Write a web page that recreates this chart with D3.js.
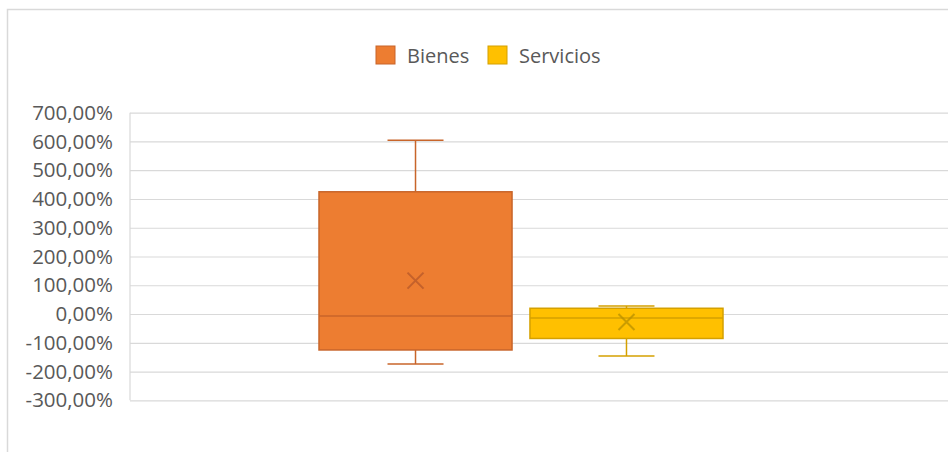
<!DOCTYPE html>
<html>
<head>
<meta charset="utf-8">
<script src="https://cdn.jsdelivr.net/npm/d3@7"></script>
<style>
  html, body { margin: 0; padding: 0; background: #ffffff; }
  svg { display: block; }
  text { font-family: "Open Sans", sans-serif; }
</style>
</head>
<body>
<div id="chart"></div>
<script>
// box plot values (in %)
var series = ["Bienes", "Servicios"];
var minVals = [-174, -146];
var q1Vals = [-125, -85];
var medianVals = [-7, -14];
var q3Vals = [425, 20];
var maxVals = [604, 28];
var meanVals = [116, -28];
var fills = ["#ED7D31", "#FFC000"];
var strokes = ["#C8652A", "#D4A000"];

var width = 952, height = 452;
var plot = {left: 130, right: 948, top: 112.7, bottom: 400.3};

var locale = d3.formatLocale({decimal: ",", thousands: ".", grouping: [3], currency: ["", "€"], minus: "-"});
var fmt = locale.format(".2f");

var svg = d3.select("#chart").append("svg")
    .attr("width", width)
    .attr("height", height);

// chart frame (only top and left visible in the crop)
svg.append("path")
    .attr("d", "M7.5,452 V9.5 H948")
    .attr("fill", "none")
    .attr("stroke", "#d9d9d9")
    .attr("stroke-width", 1.5);

var yScale = d3.scaleLinear()
    .domain([-300, 700])
    .range([plot.bottom, plot.top]);

var xScale = d3.scaleBand()
    .domain(series)
    .range([319, 723])
    .paddingInner(0.085);

// gridlines + labels
var yAxis = g => g
    .attr("transform", `translate(${plot.left},0)`)
    .call(d3.axisLeft(yScale)
        .tickValues(yScale.ticks(10))
        .tickSize(-(plot.right - plot.left))
        .tickPadding(17)
        .tickFormat(d => fmt(d) + "%"))
    .call(g => g.select(".domain").remove())
    .call(g => g.selectAll(".tick line").attr("stroke", "#d9d9d9").attr("stroke-width", 1.2))
    .call(g => g.selectAll(".tick text")
        .attr("fill", "#595959")
        .attr("font-size", "20.5px")
        .attr("font-family", "'Open Sans', sans-serif"));

svg.append("g").call(yAxis);

svg.append("line")
    .attr("x1", plot.left).attr("x2", plot.left)
    .attr("y1", plot.top).attr("y2", plot.bottom)
    .attr("stroke", "#d9d9d9")
    .attr("stroke-width", 1.2);

// boxes
var boxes = svg.append("g")
    .selectAll("g")
    .data(series)
    .join("g");

var capW = 56;

boxes.each(function (name, i) {
    var g = d3.select(this);
    var x0 = xScale(name), bw = xScale.bandwidth(), cx = x0 + bw / 2;
    var col = strokes[i];

    // whiskers
    g.append("line")
        .attr("x1", cx).attr("x2", cx)
        .attr("y1", yScale(maxVals[i])).attr("y2", yScale(q3Vals[i]))
        .attr("stroke", col).attr("stroke-width", 1.5);
    g.append("line")
        .attr("x1", cx).attr("x2", cx)
        .attr("y1", yScale(q1Vals[i])).attr("y2", yScale(minVals[i]))
        .attr("stroke", col).attr("stroke-width", 1.5);
    [maxVals[i], minVals[i]].forEach(v => {
        g.append("line")
            .attr("x1", cx - capW / 2).attr("x2", cx + capW / 2)
            .attr("y1", yScale(v)).attr("y2", yScale(v))
            .attr("stroke", col).attr("stroke-width", 1.5);
    });

    // box
    g.append("rect")
        .attr("x", x0)
        .attr("y", yScale(q3Vals[i]))
        .attr("width", bw)
        .attr("height", yScale(q1Vals[i]) - yScale(q3Vals[i]))
        .attr("fill", fills[i])
        .attr("stroke", col)
        .attr("stroke-width", 1.5);

    // median
    g.append("line")
        .attr("x1", x0).attr("x2", x0 + bw)
        .attr("y1", yScale(medianVals[i])).attr("y2", yScale(medianVals[i]))
        .attr("stroke", col).attr("stroke-width", 1.5);

    // mean marker
    var my = yScale(meanVals[i]), s = 8;
    g.append("path")
        .attr("d", `M${cx - s},${my - s} L${cx + s},${my + s} M${cx - s},${my + s} L${cx + s},${my - s}`)
        .attr("stroke", i == 0 ? "#B5582A" : "#B89000")
        .attr("stroke-opacity", 0.75)
        .attr("stroke-width", 2)
        .attr("fill", "none");
});

// legend
var legendX = [376, 488];
var legend = svg.append("g")
    .selectAll("g")
    .data(series)
    .join("g")
    .attr("transform", (d, i) => `translate(${legendX[i]},46)`);

legend.append("rect")
    .attr("width", 19).attr("height", 18)
    .attr("fill", (d, i) => fills[i])
    .attr("stroke", (d, i) => strokes[i])
    .attr("stroke-width", 1);

legend.append("text")
    .attr("x", 31)
    .attr("y", 17)
    .attr("fill", "#595959")
    .attr("font-size", "20px")
    .text(d => d);
</script>
</body>
</html>
